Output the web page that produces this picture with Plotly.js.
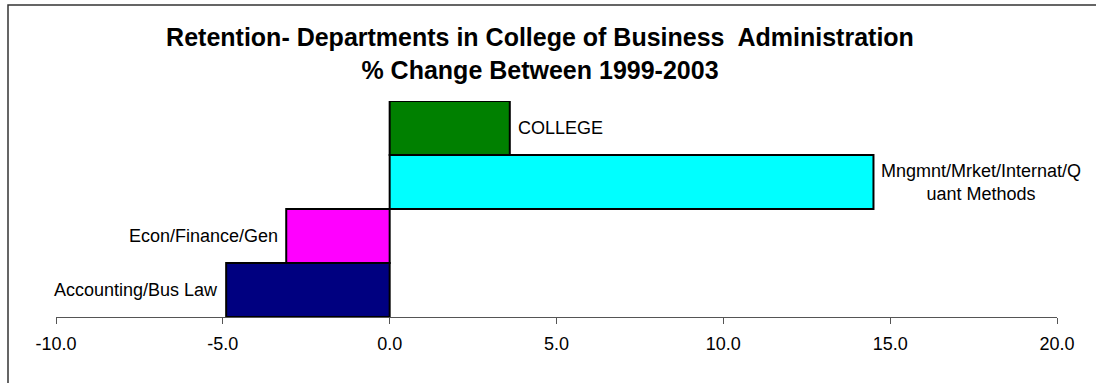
<!DOCTYPE html>
<html>
<head>
<meta charset="utf-8">
<script src="https://cdn.plot.ly/plotly-3.0.1.min.js"></script>
<style>
  html, body { margin: 0; padding: 0; background: #ffffff; }
  #chart { width: 1096px; height: 383px; }
</style>
</head>
<body>
<div id="chart"></div>
<script>
// Data (bottom to top)
const categories = ["Accounting/Bus Law", "Econ/Finance/Gen", "Mngmnt/Mrket/Internat/Quant Methods", "COLLEGE"];
const labels = ["Accounting/Bus Law", "Econ/Finance/Gen", "Mngmnt/Mrket/Internat/Q<br>uant Methods", "COLLEGE"];
const values = [-4.9, -3.1, 14.5, 3.6];
const colors = ["#000080", "#FF00FF", "#00FFFF", "#008000"];
const tickVals = [-10, -5, 0, 5, 10, 15, 20];

const FONT = "Arial, 'Liberation Sans', sans-serif";

const W = 1096, H = 383;
const L = 56, R = 39, T = 101, B = 66;
const plotW = W - L - R, plotH = H - T - B;
const px2paperX = px => (px - L) / plotW;
const py2paperY = py => (H - B - py) / plotH;

const trace = {
  type: 'bar',
  orientation: 'h',
  x: values,
  y: categories,
  marker: { color: colors, line: { color: '#000000', width: 2 } },
  width: 1,
  hoverinfo: 'none'
};

const annotations = categories.map((c, i) => ({
  x: values[i],
  y: c,
  xref: 'x',
  yref: 'y',
  text: labels[i],
  showarrow: false,
  xanchor: values[i] >= 0 ? 'left' : 'right',
  xshift: values[i] >= 0 ? 6 : -6,
  align: 'center',
  font: { family: FONT, size: 18, color: '#000000' }
}));

const layout = {
  width: W,
  height: H,
  margin: { l: L, r: R, t: T, b: B, pad: 0 },
  paper_bgcolor: '#ffffff',
  plot_bgcolor: '#ffffff',
  showlegend: false,
  bargap: 0,
  title: {
    text: '<b>Retention- Departments in College of Business  Administration<br>% Change Between 1999-2003</b>',
    font: { family: FONT, size: 25, color: '#000000' },
    xref: 'container',
    yref: 'container',
    x: 540 / W,
    xanchor: 'center',
    y: 1 - 46 / H,
    yanchor: 'top'
  },
  xaxis: {
    range: [-10, 20],
    tickvals: tickVals,
    ticktext: tickVals.map(v => v.toFixed(1)),
    showgrid: false,
    zeroline: false,
    showline: true,
    linecolor: '#555555',
    linewidth: 1,
    ticks: 'outside',
    ticklen: 6,
    tickcolor: '#555555',
    ticklabelstandoff: 4,
    tickfont: { family: FONT, size: 18, color: '#000000' },
    fixedrange: true
  },
  yaxis: {
    type: 'category',
    categoryorder: 'array',
    categoryarray: categories,
    range: [-0.5, 3.5],
    showticklabels: false,
    showgrid: false,
    zeroline: false,
    showline: false,
    ticks: '',
    fixedrange: true
  },
  annotations: annotations,
  shapes: [
    { type: 'rect', xref: 'paper', yref: 'paper', layer: 'below',
      x0: px2paperX(8), x1: px2paperX(1200), y0: py2paperY(500), y1: py2paperY(5),
      fillcolor: 'rgba(0,0,0,0)',
      line: { color: '#333333', width: 1.5 } }
  ]
};

Plotly.newPlot('chart', [trace], layout, { staticPlot: true, displayModeBar: false });
</script>
</body>
</html>
